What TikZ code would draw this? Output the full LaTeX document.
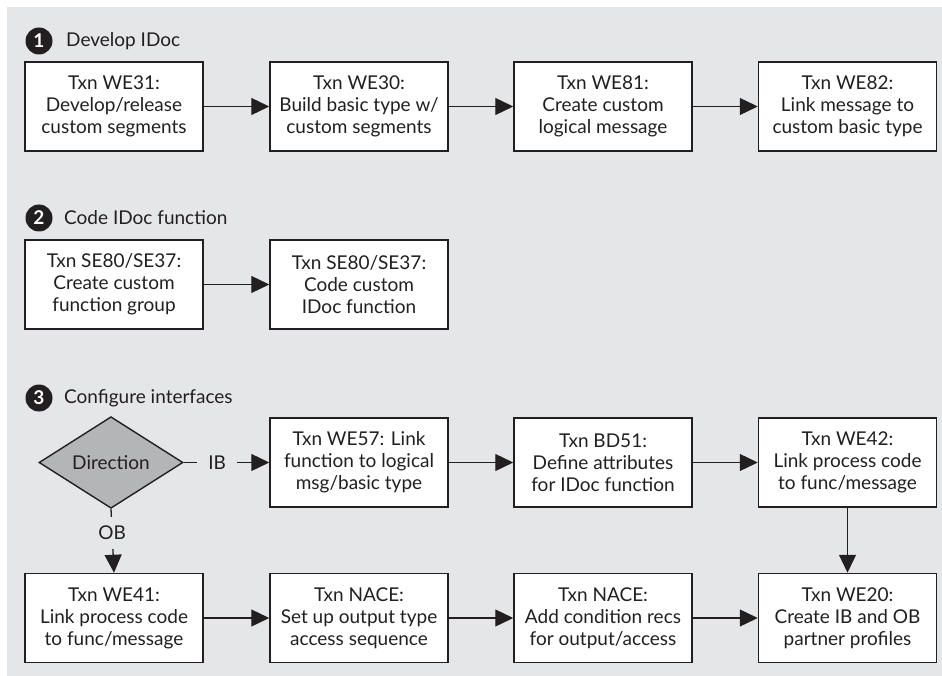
\documentclass[tikz,border=0pt]{standalone}
\usepackage{fontspec}
\setmainfont{Lato}
\usetikzlibrary{arrows.meta,shapes.geometric}
\definecolor{bggray}{HTML}{E5E6E8}
\definecolor{diagray}{HTML}{B4B5B7}
\definecolor{ink}{HTML}{231F20}
\tikzset{
  stepbox/.style={draw=ink, line width=1.5pt, fill=white, minimum width=178pt, minimum height=89pt,
    inner sep=0pt, align=center, text=ink, font=\fontsize{19}{22}\selectfont},
  flow/.style={draw=ink, line width=1.3pt, -{Triangle[length=18pt,width=17pt]}},
  numcirc/.style={circle, fill=ink, minimum size=27pt, inner sep=0pt, text=white,
    font=\fontsize{19}{19}\selectfont\bfseries},
  heading/.style={anchor=west, text=ink, inner sep=0pt, font=\fontsize{19}{22}\selectfont},
  lbl/.style={fill=bggray, text=ink, inner xsep=11pt, inner ysep=2pt, font=\fontsize{19}{22}\selectfont}
}
\begin{document}
\begin{tikzpicture}[x=1pt,y=-1pt]
\useasboundingbox (0,0) rectangle (942,676);
\fill[bggray] (7,7) rectangle (942,676);

% headings
\node[numcirc] (n1) at (39,41) {1};
\node[heading] (h1) at (66,41) {Develop IDoc};
\node[numcirc] (n2) at (39,218) {2};
\node[heading] (h2) at (64,218) {Code IDoc function};
\node[numcirc] (n3) at (39,398) {3};
\node[heading] (h3) at (64,398) {Configure interfaces};

% row 1
\node[stepbox] (we31) at (114,106.5) {Txn WE31:\\Develop/release\\custom segments};
\node[stepbox] (we30) at (359,106.5) {Txn WE30:\\Build basic type w/\\custom segments};
\node[stepbox] (we81) at (603,106.5) {Txn WE81:\\Create custom\\logical message};
\node[stepbox] (we82) at (847.5,106.5) {Txn WE82:\\Link message to\\custom basic type};

% row 2
\node[stepbox] (se1) at (114,284.5) {Txn SE80/SE37:\\Create custom\\function group};
\node[stepbox] (se2) at (359,284.5) {Txn SE80/SE37:\\Code custom\\IDoc function};

% row 3
\node[diamond, draw=ink, line width=1.4pt, fill=diagray, minimum width=144pt, minimum height=89pt,
  inner sep=0pt, text=ink, font=\fontsize{19}{22}\selectfont] (dir) at (111,462.5) {Direction};
\node[stepbox] (we57) at (359,462.5) {Txn WE57: Link\\function to logical\\msg/basic type};
\node[stepbox] (bd51) at (603,462.5) {Txn BD51:\\Define attributes\\for IDoc function};
\node[stepbox] (we42) at (847.5,462.5) {Txn WE42:\\Link process code\\to func/message};

% row 4
\node[stepbox] (we41) at (114,618) {Txn WE41:\\Link process code\\to func/message};
\node[stepbox] (nace1) at (359,618) {Txn NACE:\\Set up output type\\access sequence};
\node[stepbox] (nace2) at (603,618) {Txn NACE:\\Add condition recs\\for output/access};
\node[stepbox] (we20) at (847.5,618) {Txn WE20:\\Create IB and OB\\partner profiles};

% connectors
\draw[flow] (we31) -- (we30);
\draw[flow] (we30) -- (we81);
\draw[flow] (we81) -- (we82);
\draw[flow] (se1) -- (se2);
\draw[flow] (dir.east) -- node[lbl, pos=0.39] {IB} (we57.west);
\draw[flow] (dir.south) -- node[lbl, pos=0.37, inner xsep=2pt, inner ysep=9pt] {OB} (we41.north);
\draw[flow] (we57) -- (bd51);
\draw[flow] (bd51) -- (we42);
\draw[flow] (we42) -- (we20);
\draw[flow] (we41) -- (nace1);
\draw[flow] (nace1) -- (nace2);
\draw[flow] (nace2) -- (we20);
\end{tikzpicture}
\end{document}
